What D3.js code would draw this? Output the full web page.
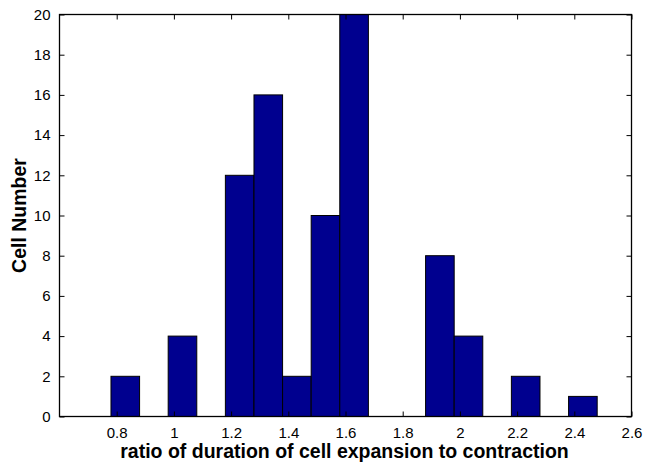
<!DOCTYPE html>
<html>
<head>
<meta charset="utf-8">
<script src="https://cdn.jsdelivr.net/npm/d3@7"></script>
<style>
  html, body { margin: 0; padding: 0; background: #fff; }
  svg { display: block; }
  text { font-family: "Liberation Sans", Arial, Helvetica, sans-serif; fill: #000; }
</style>
</head>
<body>
<svg id="chart" width="645" height="462"></svg>
<script>
// Histogram bins (left edge, width 0.1) and cell counts per bin
const binStarts = [0.68, 0.78, 0.88, 0.98, 1.08, 1.18, 1.28, 1.38, 1.48, 1.58, 1.68, 1.78, 1.88, 1.98, 2.08, 2.18, 2.28, 2.38];
const binWidth = 0.1;
const cellCounts = [0, 2, 0, 4, 0, 12, 16, 2, 10, 20, 0, 0, 8, 4, 0, 2, 0, 1];
const xTicks = [0.8, 1, 1.2, 1.4, 1.6, 1.8, 2, 2.2, 2.4, 2.6];
const yTicks = [0, 2, 4, 6, 8, 10, 12, 14, 16, 18, 20];
const xTitle = "ratio of duration of cell expansion to contraction";
const yTitle = "Cell Number";

const svg = d3.select("#chart");
const m = { left: 59.5, right: 631.5, top: 14.5, bottom: 416.5 };

const x = d3.scaleLinear().domain([0.6, 2.6]).range([m.left, m.right]);
const y = d3.scaleLinear().domain([0, 20]).range([m.bottom, m.top]);

const bins = binStarts.map((s, i) => ({ x0: s, x1: s + binWidth, n: cellCounts[i] }));

// bars
svg.append("g").selectAll("rect").data(bins).join("rect")
  .attr("x", d => x(d.x0))
  .attr("y", d => y(d.n))
  .attr("width", d => x(d.x1) - x(d.x0))
  .attr("height", d => y(0) - y(d.n))
  .attr("fill", "#00008f")
  .attr("stroke", "#000")
  .attr("stroke-width", 1);

const tickLen = 5;
const fontSize = "15px";

// bottom axis (ticks pointing inward)
const axBottom = svg.append("g").attr("transform", `translate(0,${m.bottom})`)
  .call(d3.axisBottom(x).tickValues(xTicks).tickSize(-tickLen).tickPadding(10.5)
    .tickFormat(d3.format("~g")));
// top axis
const axTop = svg.append("g").attr("transform", `translate(0,${m.top})`)
  .call(d3.axisTop(x).tickValues(xTicks).tickSize(-tickLen).tickFormat(""));
// left axis
const axLeft = svg.append("g").attr("transform", `translate(${m.left},0)`)
  .call(d3.axisLeft(y).tickValues(yTicks).tickSize(-tickLen).tickPadding(9)
    .tickFormat(d3.format("d")));
// right axis
const axRight = svg.append("g").attr("transform", `translate(${m.right},0)`)
  .call(d3.axisRight(y).tickValues(yTicks).tickSize(-tickLen).tickFormat(""));

[axBottom, axTop, axLeft, axRight].forEach(g => {
  g.select(".domain").remove();
  g.selectAll(".tick line").attr("stroke", "#000");
  g.selectAll("text").attr("font-size", fontSize)
    .attr("font-family", "'Liberation Sans', Arial, sans-serif").attr("fill", "#000");
});

// axes box
svg.append("rect")
  .attr("x", m.left).attr("y", m.top)
  .attr("width", m.right - m.left).attr("height", m.bottom - m.top)
  .attr("fill", "none").attr("stroke", "#000").attr("stroke-width", 1.3);

// titles
svg.append("text")
  .attr("x", (m.left + m.right) / 2 - 1).attr("y", 457.5)
  .attr("text-anchor", "middle")
  .attr("font-size", "19.5px").attr("font-weight", "bold")
  .text(xTitle);

svg.append("text")
  .attr("transform", `translate(26,${(m.top + m.bottom) / 2}) rotate(-90)`)
  .attr("text-anchor", "middle")
  .attr("font-size", "19.5px").attr("font-weight", "bold")
  .text(yTitle);
</script>
</body>
</html>
